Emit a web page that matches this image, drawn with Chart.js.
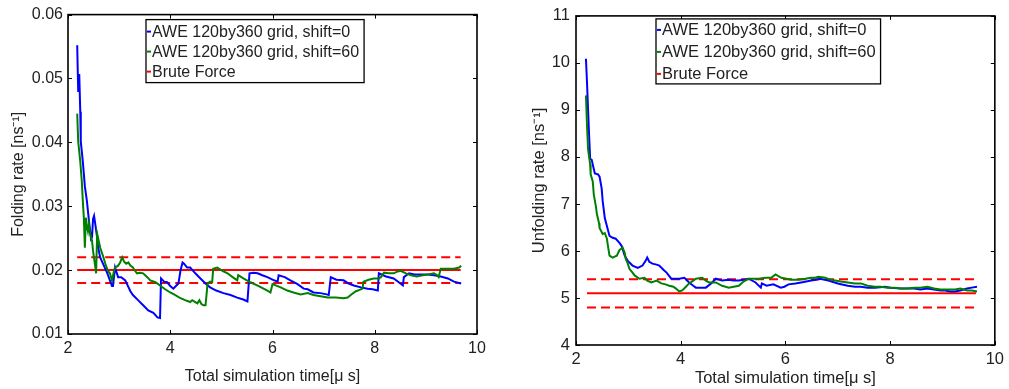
<!DOCTYPE html>
<html>
<head>
<meta charset="utf-8">
<script src="https://cdn.jsdelivr.net/npm/chart.js@4.4.1/dist/chart.umd.min.js"></script>
<style>
  html, body { margin: 0; padding: 0; background: #fff; }
  body { width: 1009px; height: 389px; position: relative; overflow: hidden; }
  canvas { position: absolute; top: 0; }
  #c1 { left: 0; }
  #c2 { left: 505px; }
</style>
</head>
<body>
<canvas id="c1" width="500" height="389"></canvas>
<canvas id="c2" width="504" height="389"></canvas>
<script>
// ---------------- data ----------------
const seriesLabels = ['AWE 120by360 grid, shift=0', 'AWE 120by360 grid, shift=60', 'Brute Force'];
const xTicks = [2, 4, 6, 8, 10];
const foldTicks = [0.01, 0.02, 0.03, 0.04, 0.05, 0.06];
const unfoldTicks = [4, 5, 6, 7, 8, 9, 10, 11];

// Folding rate [t (us), rate (ns^-1)]
const foldShift0 = [[2.18,0.0552],[2.20,0.0479],[2.22,0.0507],[2.24,0.0448],[2.25,0.0401],[2.29,0.0370],[2.33,0.0331],[2.37,0.0308],[2.41,0.0277],[2.45,0.0249],[2.47,0.0252],[2.49,0.0280],[2.51,0.0285],[2.53,0.0274],[2.57,0.0251],[2.59,0.0235],[2.63,0.0220],[2.69,0.0209],[2.77,0.0195],[2.86,0.0175],[2.88,0.0175],[2.92,0.0204],[2.98,0.0189],[3.04,0.0189],[3.12,0.0184],[3.22,0.0167],[3.27,0.0161],[3.37,0.0153],[3.47,0.0145],[3.57,0.0137],[3.67,0.0133],[3.75,0.0126],[3.80,0.0125],[3.82,0.0187],[3.88,0.0182],[3.94,0.0181],[4.00,0.0175],[4.06,0.0171],[4.12,0.0176],[4.16,0.0179],[4.20,0.0199],[4.24,0.0212],[4.27,0.0210],[4.33,0.0204],[4.39,0.0204],[4.49,0.0195],[4.59,0.0187],[4.69,0.0179],[4.78,0.0173],[4.90,0.0168],[5.04,0.0164],[5.18,0.0161],[5.31,0.0157],[5.43,0.0154],[5.51,0.0151],[5.55,0.0195],[5.63,0.0196],[5.71,0.0195],[5.80,0.0192],[5.90,0.0189],[6.00,0.0185],[6.10,0.0182],[6.12,0.0192],[6.24,0.0189],[6.35,0.0184],[6.49,0.0178],[6.61,0.0171],[6.69,0.0170],[6.80,0.0165],[6.94,0.0164],[7.06,0.0162],[7.10,0.0161],[7.14,0.0189],[7.25,0.0185],[7.39,0.0184],[7.49,0.0179],[7.59,0.0176],[7.73,0.0173],[7.86,0.0171],[7.96,0.0170],[8.06,0.0168],[8.08,0.0195],[8.22,0.0190],[8.37,0.0187],[8.47,0.0181],[8.55,0.0176],[8.57,0.0189],[8.67,0.0195],[8.78,0.0193],[8.90,0.0193],[9.04,0.0193],[9.16,0.0192],[9.29,0.0190],[9.43,0.0187],[9.55,0.0182],[9.69,0.0179]];
const foldShift60 = [[2.18,0.0445],[2.20,0.0401],[2.24,0.0370],[2.27,0.0339],[2.29,0.0308],[2.31,0.0282],[2.33,0.0235],[2.35,0.0282],[2.37,0.0269],[2.39,0.0261],[2.41,0.0272],[2.43,0.0258],[2.47,0.0246],[2.49,0.0230],[2.53,0.0207],[2.55,0.0195],[2.57,0.0257],[2.63,0.0235],[2.69,0.0221],[2.73,0.0210],[2.78,0.0199],[2.82,0.0195],[2.86,0.0184],[2.90,0.0199],[2.92,0.0204],[2.98,0.0207],[3.02,0.0212],[3.06,0.0220],[3.10,0.0213],[3.14,0.0210],[3.18,0.0212],[3.22,0.0207],[3.27,0.0204],[3.31,0.0199],[3.35,0.0195],[3.41,0.0196],[3.47,0.0195],[3.55,0.0189],[3.61,0.0184],[3.71,0.0181],[3.80,0.0176],[3.90,0.0170],[4.00,0.0165],[4.10,0.0161],[4.20,0.0156],[4.29,0.0153],[4.39,0.0150],[4.43,0.0153],[4.49,0.0150],[4.53,0.0148],[4.57,0.0153],[4.61,0.0147],[4.65,0.0145],[4.69,0.0145],[4.73,0.0179],[4.78,0.0182],[4.82,0.0181],[4.84,0.0202],[4.92,0.0204],[5.02,0.0199],[5.12,0.0195],[5.22,0.0189],[5.31,0.0184],[5.33,0.0192],[5.43,0.0187],[5.57,0.0181],[5.73,0.0175],[5.90,0.0168],[5.96,0.0165],[6.00,0.0178],[6.16,0.0173],[6.29,0.0168],[6.41,0.0165],[6.55,0.0162],[6.69,0.0164],[6.80,0.0161],[6.94,0.0159],[7.08,0.0157],[7.24,0.0157],[7.39,0.0156],[7.47,0.0157],[7.53,0.0161],[7.63,0.0167],[7.67,0.0168],[7.76,0.0171],[7.78,0.0182],[7.88,0.0185],[7.98,0.0187],[8.08,0.0187],[8.12,0.0189],[8.18,0.0196],[8.27,0.0195],[8.37,0.0195],[8.45,0.0198],[8.51,0.0199],[8.61,0.0195],[8.71,0.0192],[8.82,0.0190],[8.94,0.0192],[9.04,0.0193],[9.16,0.0195],[9.22,0.0192],[9.25,0.0189],[9.29,0.0202],[9.41,0.0202],[9.55,0.0202],[9.65,0.0204],[9.69,0.0207]];
const foldBrute = 0.020;
const foldBruteLow = 0.018;
const foldBruteHigh = 0.022;
const foldBruteSpan = [2.18, 9.68];

// Unfolding rate [t (us), rate (ns^-1)]
const unfoldShift0 = [[2.19,10.09],[2.21,9.59],[2.23,9.02],[2.25,8.47],[2.27,7.96],[2.30,7.94],[2.32,7.84],[2.36,7.65],[2.42,7.63],[2.45,7.58],[2.49,7.33],[2.51,7.06],[2.55,6.70],[2.59,6.53],[2.64,6.32],[2.70,6.28],[2.76,6.26],[2.80,6.21],[2.83,6.17],[2.87,6.11],[2.93,5.90],[2.99,5.79],[3.08,5.69],[3.18,5.64],[3.27,5.69],[3.33,5.79],[3.36,5.86],[3.40,5.77],[3.46,5.73],[3.54,5.71],[3.59,5.69],[3.67,5.60],[3.73,5.54],[3.82,5.41],[3.90,5.41],[3.97,5.41],[4.07,5.43],[4.16,5.33],[4.24,5.26],[4.29,5.22],[4.39,5.22],[4.48,5.22],[4.58,5.31],[4.67,5.41],[4.79,5.37],[4.92,5.39],[5.01,5.37],[5.11,5.37],[5.20,5.39],[5.30,5.41],[5.43,5.33],[5.53,5.22],[5.55,5.31],[5.64,5.26],[5.77,5.29],[5.91,5.22],[5.98,5.24],[6.06,5.29],[6.19,5.31],[6.30,5.33],[6.40,5.35],[6.49,5.37],[6.59,5.39],[6.66,5.41],[6.82,5.37],[7.00,5.31],[7.19,5.26],[7.33,5.24],[7.44,5.24],[7.57,5.22],[7.71,5.22],[7.90,5.24],[8.01,5.22],[8.20,5.20],[8.33,5.20],[8.46,5.20],[8.58,5.18],[8.71,5.20],[8.84,5.18],[8.96,5.16],[9.05,5.16],[9.15,5.14],[9.24,5.14],[9.34,5.16],[9.47,5.20],[9.56,5.22],[9.66,5.24]];
const unfoldShift60 = [[2.19,9.31],[2.21,8.68],[2.23,8.17],[2.27,7.84],[2.28,7.63],[2.32,7.48],[2.34,7.20],[2.38,6.95],[2.40,6.78],[2.44,6.59],[2.45,6.49],[2.51,6.36],[2.55,6.38],[2.59,6.26],[2.61,6.11],[2.64,5.90],[2.70,5.86],[2.74,5.88],[2.78,5.90],[2.83,6.02],[2.89,6.07],[2.93,5.96],[2.95,5.83],[2.99,5.73],[3.02,5.62],[3.08,5.54],[3.12,5.48],[3.21,5.41],[3.31,5.43],[3.36,5.37],[3.44,5.33],[3.54,5.37],[3.63,5.31],[3.71,5.29],[3.78,5.26],[3.86,5.24],[3.91,5.20],[3.97,5.14],[4.03,5.16],[4.10,5.24],[4.16,5.31],[4.24,5.37],[4.29,5.41],[4.41,5.43],[4.48,5.37],[4.54,5.33],[4.67,5.33],[4.79,5.26],[4.92,5.22],[5.01,5.24],[5.11,5.26],[5.20,5.35],[5.30,5.41],[5.49,5.41],[5.62,5.43],[5.73,5.43],[5.81,5.50],[5.92,5.43],[6.02,5.41],[6.11,5.39],[6.25,5.39],[6.38,5.41],[6.49,5.43],[6.57,5.43],[6.63,5.45],[6.76,5.43],[6.85,5.39],[6.95,5.37],[7.06,5.35],[7.19,5.33],[7.33,5.31],[7.44,5.31],[7.57,5.26],[7.71,5.24],[7.82,5.24],[7.95,5.22],[8.09,5.22],[8.20,5.20],[8.33,5.20],[8.46,5.22],[8.58,5.22],[8.71,5.24],[8.84,5.20],[8.96,5.18],[9.05,5.18],[9.15,5.18],[9.24,5.18],[9.34,5.20],[9.47,5.16],[9.56,5.16],[9.66,5.14]];
const unfoldBrute = 5.1;
const unfoldBruteLow = 4.8;
const unfoldBruteHigh = 5.4;
const unfoldBruteSpan = [2.21, 9.64];

// ---------------- styling / helpers ----------------
const BLUE = '#0000ff', GREEN = '#008000', RED = '#ff0000';
const TEXT = '#222222';
const FONT = '"Liberation Sans", Arial, Helvetica, sans-serif';

const toPts = arr => arr.map(p => ({ x: p[0], y: p[1] }));
const hline = (v, span) => [{ x: span[0], y: v }, { x: span[1], y: v }];

const framePlugin = {
  id: 'matlabFrame',
  afterDatasetsDraw(chart) {
    const { ctx, chartArea: a, scales: { x, y } } = chart;
    ctx.save();
    ctx.strokeStyle = '#000';
    ctx.lineWidth = 1;
    const L = 4;
    ctx.beginPath();
    x.ticks.forEach(t => {
      const px = Math.round(x.getPixelForValue(t.value)) + 0.5;
      ctx.moveTo(px, a.bottom); ctx.lineTo(px, a.bottom - L);
      ctx.moveTo(px, a.top); ctx.lineTo(px, a.top + L);
    });
    y.ticks.forEach(t => {
      const py = Math.round(y.getPixelForValue(t.value)) + 0.5;
      ctx.moveTo(a.left, py); ctx.lineTo(a.left + L, py);
      ctx.moveTo(a.right, py); ctx.lineTo(a.right - L, py);
    });
    ctx.stroke();
    ctx.lineWidth = 1.6;
    ctx.strokeRect(a.left, a.top, a.right - a.left, a.bottom - a.top);
    ctx.restore();
  }
};

const boxLegendPlugin = {
  id: 'boxLegend',
  afterDatasetsDraw(chart, args, o) {
    const { ctx, chartArea: a } = chart;
    const items = chart.data.datasets.filter(d => d.inLegend);
    ctx.save();
    ctx.font = o.fontSize + 'px ' + FONT;
    const w = Math.max(...items.map(d => ctx.measureText(d.label).width));
    const x0 = a.left + o.dx, y0 = a.top + o.dy;
    const bw = o.textDx + w + 5, bh = o.h;
    ctx.fillStyle = '#fff';
    ctx.fillRect(x0, y0, bw, bh);
    ctx.strokeStyle = '#000';
    ctx.lineWidth = 1.3;
    ctx.strokeRect(x0, y0, bw, bh);
    items.forEach((d, i) => {
      const cy = y0 + o.firstY + i * o.rowH;
      ctx.strokeStyle = d.borderColor;
      ctx.lineWidth = 2;
      ctx.beginPath(); ctx.moveTo(x0 + 1, cy); ctx.lineTo(x0 + 5, cy); ctx.stroke();
      ctx.fillStyle = TEXT;
      ctx.textBaseline = 'middle';
      ctx.textAlign = 'left';
      ctx.fillText(d.label, x0 + o.textDx, cy + 1);
    });
    ctx.restore();
  }
};

function makeChart(id, cfg) {
  const datasets = [
    { label: seriesLabels[0], data: toPts(cfg.s0), borderColor: BLUE, borderWidth: 2, order: 1, inLegend: true },
    { label: seriesLabels[1], data: toPts(cfg.s60), borderColor: GREEN, borderWidth: 2, order: 0, inLegend: true },
    { label: seriesLabels[2], data: hline(cfg.brute, cfg.span), borderColor: RED, borderWidth: 2, order: 2, inLegend: true },
    { label: seriesLabels[2] + ' (upper)', data: hline(cfg.high, cfg.span), borderColor: RED, borderWidth: 2, borderDash: [9, 5], order: 2 },
    { label: seriesLabels[2] + ' (lower)', data: hline(cfg.low, cfg.span), borderColor: RED, borderWidth: 2, borderDash: [9, 5], order: 2 }
  ];
  datasets.forEach(d => { d.pointRadius = 0; d.fill = false; d.tension = 0; d.backgroundColor = d.borderColor; });
  return new Chart(document.getElementById(id), {
    type: 'line',
    data: { datasets },
    plugins: [framePlugin, boxLegendPlugin],
    options: {
      responsive: false,
      animation: false,
      devicePixelRatio: 1,
      layout: { padding: { left: 0, top: cfg.padTop, right: cfg.padRight, bottom: 0 } },
      plugins: {
        legend: { display: false },
        tooltip: { enabled: false },
        boxLegend: cfg.legend
      },
      scales: {
        x: {
          type: 'linear',
          min: xTicks[0], max: xTicks[xTicks.length - 1],
          afterBuildTicks: s => { s.ticks = xTicks.map(v => ({ value: v })); },
          afterFit: s => { s.height = cfg.xH; },
          grid: { display: false, drawTicks: false },
          border: { display: false },
          ticks: { color: TEXT, font: { family: FONT, size: cfg.fs }, padding: cfg.xTickPad, autoSkip: false, maxRotation: 0, callback: v => String(v) },
          title: { display: true, text: 'Total simulation time[μ s]', color: TEXT, font: { family: FONT, size: cfg.fs }, padding: { top: 0, bottom: cfg.xTitlePad } }
        },
        y: {
          type: 'linear',
          min: cfg.yTicks[0], max: cfg.yTicks[cfg.yTicks.length - 1],
          afterBuildTicks: s => { s.ticks = cfg.yTicks.map(v => ({ value: v })); },
          afterFit: s => { s.width = cfg.yW; },
          grid: { display: false, drawTicks: false },
          border: { display: false },
          ticks: { color: TEXT, font: { family: FONT, size: cfg.fs }, padding: cfg.yTickPad, autoSkip: false, callback: cfg.yFmt },
          title: { display: true, text: cfg.yTitle, color: TEXT, font: { family: FONT, size: cfg.fs }, padding: { top: cfg.yTitlePad, bottom: 0 } }
        }
      }
    }
  });
}

makeChart('c1', {
  s0: foldShift0, s60: foldShift60, brute: foldBrute, low: foldBruteLow, high: foldBruteHigh, span: foldBruteSpan,
  yTicks: foldTicks, yFmt: v => v.toFixed(2), yTitle: 'Folding rate [ns⁻¹]',
  padTop: 11, padRight: 23, xH: 55, yW: 68, fs: 16, xTickPad: 5, yTickPad: 5, xTitlePad: 3, yTitlePad: 9,
  legend: { dx: 78, dy: 5, h: 63, firstY: 12, rowH: 20, textDx: 6, fontSize: 16 }
});

makeChart('c2', {
  s0: unfoldShift0, s60: unfoldShift60, brute: unfoldBrute, low: unfoldBruteLow, high: unfoldBruteHigh, span: unfoldBruteSpan,
  yTicks: unfoldTicks, yFmt: v => String(v), yTitle: 'Unfolding rate [ns⁻¹]',
  padTop: 13, padRight: 11, xH: 44, yW: 71, fs: 16.5, xTickPad: 5, yTickPad: 6, xTitlePad: 1, yTitlePad: 25,
  legend: { dx: 80, dy: 3, h: 65, firstY: 11, rowH: 22, textDx: 6, fontSize: 16.5 }
});
</script>
</body>
</html>
